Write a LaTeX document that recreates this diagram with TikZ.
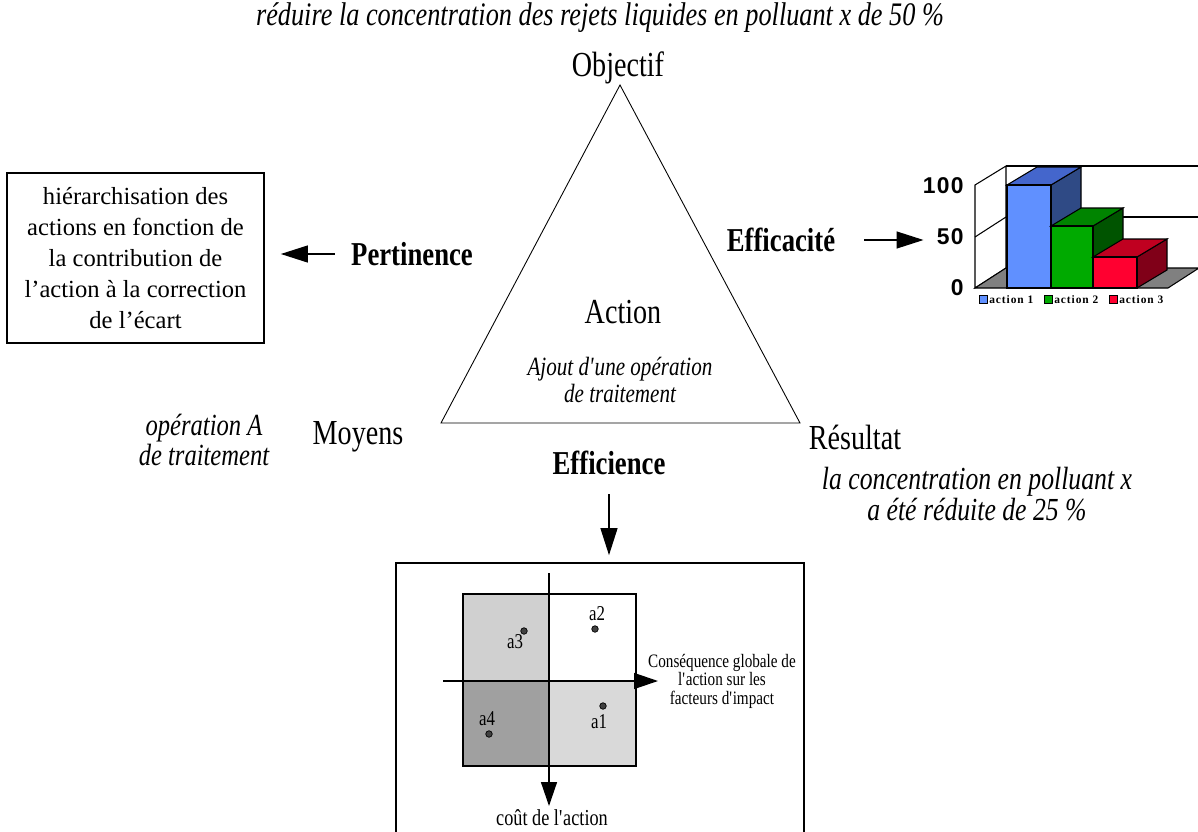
\documentclass[tikz,border=0pt]{standalone}
\usepackage{fontspec}
\setmainfont{Liberation Serif}
\newfontfamily\condfont{Liberation Serif}[FakeStretch=0.8]
\newfontfamily\chartfont{Liberation Sans}[LetterSpace=6]
\newfontfamily\legfont{Liberation Serif}[LetterSpace=8]
\usetikzlibrary{arrows.meta,positioning}
\definecolor{quadlight}{HTML}{d0d0d0}
\definecolor{quadpale}{HTML}{d9d9d9}
\definecolor{quaddark}{HTML}{a0a0a0}
\definecolor{floorgray}{HTML}{808080}
\definecolor{onefront}{HTML}{6090ff}
\definecolor{onetop}{HTML}{4466cc}
\definecolor{oneside}{HTML}{2f4a85}
\definecolor{twofront}{HTML}{00aa00}
\definecolor{twotop}{HTML}{008400}
\definecolor{twoside}{HTML}{005400}
\definecolor{threefront}{HTML}{ff0030}
\definecolor{threetop}{HTML}{c00020}
\definecolor{threeside}{HTML}{800018}

\begin{document}
\begin{tikzpicture}[x=0.02cm, y=-0.02cm,
  vertexlbl/.style={font=\condfont\fontsize{20}{24}\selectfont, inner sep=0pt},
  critlbl/.style={font=\condfont\bfseries\fontsize{19}{23}\selectfont, inner sep=0pt},
  notelbl/.style={font=\condfont\itshape\fontsize{17.5}{15.3}\selectfont, align=center, inner sep=0pt},
  arr/.style={-{Triangle[length=0.54cm,width=0.34cm]}, line width=0.7pt},
  axisarr/.style={-{Triangle[length=0.48cm,width=0.32cm]}, line width=0.8pt},
  ptdot/.style={circle, draw, fill=black!75, inner sep=0pt, minimum size=0.13cm},
  ptlbl/.style={font=\condfont\fontsize{12}{14}\selectfont, inner sep=0pt},
  num/.style={font=\chartfont\bfseries\fontsize{13}{14}\selectfont, inner sep=0pt, anchor=east},
  legtxt/.style={font=\legfont\bfseries\fontsize{6.5}{8}\selectfont, inner sep=0pt, anchor=west}]
\useasboundingbox (0,0) rectangle (1198,832);

% triangle objectif / moyens / resultat
\coordinate (apex) at (620,85);
\coordinate (baseL) at (441,423);
\coordinate (baseR) at (800,423);
\draw[line width=0.5pt] (apex) -- (baseL) -- (baseR) -- cycle;
\node[notelbl, font=\condfont\itshape\fontsize{18.7}{16}\selectfont] (goal) at (600,18) {réduire la concentration des rejets liquides en polluant x de 50 \%};
\node[vertexlbl] (obj) at (618,68) {Objectif};
\node[vertexlbl] (act) at (623,312) {Action};
\node[notelbl, font=\condfont\itshape\fontsize{15}{15.3}\selectfont] (ajout) at (620,380) {Ajout d\textquotesingle une opération\\de traitement};
\node[vertexlbl] (moy) at (358,437) {Moyens};
\node[vertexlbl] (res) at (855,437) {Résultat};
\node[notelbl] (opA) at (204,440) {opération A\\de traitement};
\node[notelbl, font=\condfont\itshape\fontsize{18.3}{15.3}\selectfont] (conc) at (977,494) {la concentration en polluant x\\a été réduite de 25 \%};

% criteres
\node[critlbl] (pert) at (412,254) {Pertinence};
\node[critlbl] (effa) at (781,240) {Efficacité};
\node[critlbl] (effi) at (609,463) {Efficience};

% hierarchisation
\node[draw, line width=1pt, minimum width=5.14cm, minimum height=3.4cm, align=center,
  font=\fontsize{14}{17.6}\selectfont] (hier) at (135.5,258)
  {hiérarchisation des\\actions en fonction de\\la contribution de\\l’action à la correction\\de l’écart};
\draw[arr, shorten <=0.32cm, shorten >=0.32cm] (pert.west) -- (pert.west -| hier.east);

% histogramme 3D
\filldraw[fill=white, line width=0.6pt] (975,185) -- (1006,166) -- (1006,268) -- (975,288) -- cycle;
\draw[line width=0.6pt] (1006,166) -- (1200,166);
\draw[line width=0.6pt] (1006,217) -- (1200,217);
\draw[line width=0.6pt] (975,237) -- (1006,217);
\filldraw[fill=floorgray, line width=0.6pt] (975,288) -- (1168,288) -- (1199,268) -- (1006,268) -- cycle;
\foreach \xa/\xb/\yt/\bar in {1007/1051/185/one, 1051/1093/226/two, 1093/1137/257/three}{
  \filldraw[fill=\bar side, line width=0.6pt] (\xb,288) -- (\xb,\yt) -- (\xb+30,\yt-18) -- (\xb+30,270) -- cycle;
  \filldraw[fill=\bar top, line width=0.6pt] (\xa,\yt) -- (\xa+30,\yt-18) -- (\xb+30,\yt-18) -- (\xb,\yt) -- cycle;
  \filldraw[fill=\bar front, line width=0.6pt] (\xa,\yt) rectangle (\xb,288);
}
\node[num] (n100) at (964,186) {100};
\node[num] (n50) at (964,237) {50};
\node[num] (n0) at (964,288) {0};
\foreach \xl/\bar/\k in {979/one/1, 1044/two/2, 1109/three/3}{
  \filldraw[fill=\bar front, line width=0.4pt] (\xl,295) rectangle (\xl+8,303);
  \node[legtxt] at (\xl+10,299.5) {action \k};
}
\draw[arr, shorten <=0.58cm, shorten >=0.26cm] (effa.east) -- (effa.east -| n50.west);

% matrice cout / consequence
\node[draw, line width=1pt, minimum width=8.16cm, minimum height=5.6cm] (qbox) at (600,703) {};
\draw[arr, shorten <=0.38cm, shorten >=0.14cm] (effi.south) -- (effi.south |- qbox.north);
\fill[quadlight] (463,594) rectangle (549,681);
\fill[quaddark] (463,681) rectangle (549,766);
\fill[quadpale] (549,681) rectangle (636,766);
\draw[line width=0.8pt] (463,594) rectangle (636,766);
\coordinate (vtop) at (549,573);
\coordinate (vbot) at (549,806);
\coordinate (hleft) at (443,681);
\coordinate (hright) at (658,681);
\draw[axisarr] (vtop) -- (vbot);
\draw[axisarr] (hleft) -- (hright);
\node[font=\condfont\fontsize{10.8}{10.5}\selectfont, align=center, inner sep=0pt] (conseq) at (722,681)
  {Conséquence globale de\\l\textquotesingle action sur les\\facteurs d\textquotesingle impact};
\node[font=\condfont\fontsize{13}{15}\selectfont, inner sep=0pt] (cout) at (552,818) {coût de l\textquotesingle action};
\foreach \p/\xd/\yd/\xt/\yt in {a1/603/706/599/722, a2/595/629/597/614, a3/524/631/515/642, a4/489/734/487/719}{
  \node[ptdot] (\p) at (\xd,\yd) {};
  \node[ptlbl] at (\xt,\yt) {\p};
}
\end{tikzpicture}
\end{document}
